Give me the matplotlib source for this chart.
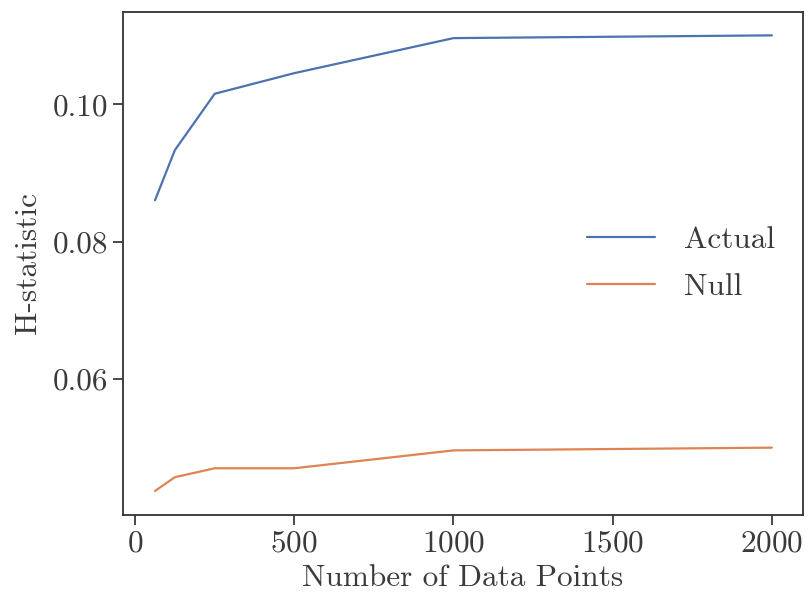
import matplotlib
matplotlib.use('Agg')
import matplotlib.pyplot as plt
import seaborn as sns

# Values
n_points = [62.5, 125, 250, 500, 1000, 2000]
h_actual = [0.0860, 0.0933, 0.1015, 0.1045, 0.1096, 0.1100]
h_null = [0.0437, 0.0457, 0.0470, 0.0470, 0.0496, 0.0500]

sns.set_theme(style='ticks')
plt.rcParams['font.family'] = ['cmr10', 'DejaVu Serif']
plt.rcParams['mathtext.fontset'] = 'cm'
plt.rcParams['axes.unicode_minus'] = False
plt.rcParams['axes.formatter.use_mathtext'] = True

fig = plt.figure(figsize=(8.06, 6.0), dpi=100)
ax = fig.add_axes([0.1526, 0.1417, 0.8434, 0.8383])

blue, orange = sns.color_palette('deep')[0], sns.color_palette('deep')[1]
ax.plot(n_points, h_actual, color=blue, lw=1.6, label='Actual')
ax.plot(n_points, h_null, color=orange, lw=1.6, label='Null')

ax.set_xlim(-38, 2097)
ax.set_ylim(0.0402, 0.1134)
ax.set_xticks([0, 500, 1000, 1500, 2000])
ax.set_yticks([0.06, 0.08, 0.10])
ax.set_yticklabels(['0.06', '0.08', '0.10'])

fs = 22.5
ax.set_xlabel('Number of Data Points', fontsize=fs, color='#3a3a3a', labelpad=5)
ax.set_ylabel('H-statistic', fontsize=fs, color='#3a3a3a', labelpad=8)
ax.tick_params(labelsize=fs, colors='#3a3a3a', length=7, width=1.3)
for s in ax.spines.values():
    s.set_color('#333333')
    s.set_linewidth(1.3)

leg = ax.legend(loc='center right', frameon=False, fontsize=fs,
                handlelength=2.2, handletextpad=0.9, labelspacing=0.6,
                bbox_to_anchor=(1.0, 0.50))
for t in leg.get_texts():
    t.set_color('#3a3a3a')

fig.savefig('out.png', dpi=100)
